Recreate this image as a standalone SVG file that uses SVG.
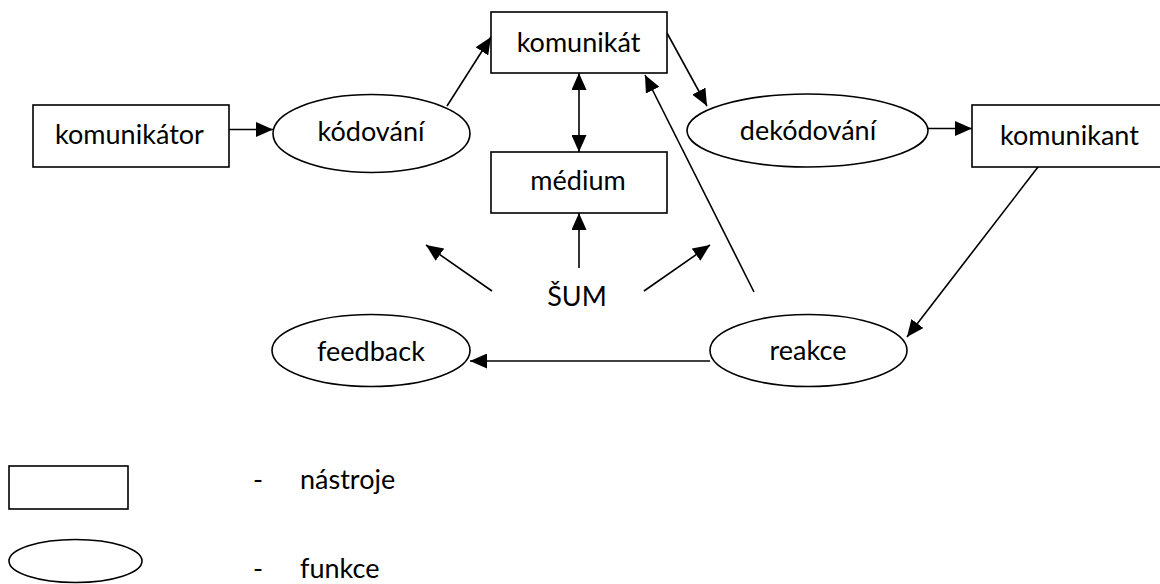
<svg xmlns="http://www.w3.org/2000/svg" width="1160" height="584" viewBox="0 0 1160 584">
  <defs>
    <marker id="ah" markerUnits="userSpaceOnUse" markerWidth="17" markerHeight="15" refX="17" refY="7.5" orient="auto-start-reverse">
      <path d="M0,0 L17,7.5 L0,15 z" fill="#000"/>
    </marker>
    <style>
      .box{fill:#fff;stroke:#000;stroke-width:1.6}
      .ell{fill:#fff;stroke:#000;stroke-width:1.6}
      .lbl{font-family:Lato,"Open Sans",sans-serif;font-size:27px;fill:#000;text-anchor:middle}
      .leg{font-family:Lato,"Open Sans",sans-serif;font-size:27px;fill:#000}
      .con line{stroke:#000;stroke-width:1.6;fill:none}
      .arr{marker-end:url(#ah)}
    </style>
  </defs>
  <rect width="1160" height="584" fill="#fff"/>

  <g id="connectors" class="con">
    <line class="arr" x1="229" y1="129.5" x2="273" y2="129.5"/>
    <line class="arr" x1="447" y1="106" x2="491" y2="37"/>
    <line class="arr" x1="579" y1="73" x2="579" y2="152" marker-start="url(#ah)"/>
    <line class="arr" x1="667" y1="33" x2="707" y2="106"/>
    <line class="arr" x1="928" y1="128.5" x2="972" y2="128.5"/>
    <line class="arr" x1="1038" y1="167" x2="907" y2="337"/>
    <line class="arr" x1="754" y1="292" x2="645" y2="75"/>
    <line class="arr" x1="710" y1="361" x2="470" y2="361"/>
    <line class="arr" x1="579" y1="268" x2="579" y2="213"/>
    <line class="arr" x1="492" y1="291" x2="426" y2="245"/>
    <line class="arr" x1="644" y1="291" x2="710" y2="245"/>
  </g>

  <g id="komunikator">
    <rect class="box" x="33" y="105" width="196" height="62"/>
    <text class="lbl" x="129.5" y="144">komunikátor</text>
  </g>
  <g id="kodovani">
    <ellipse class="ell" cx="371.5" cy="133.5" rx="98.5" ry="39"/>
    <text class="lbl" x="371" y="141">kódování</text>
  </g>
  <g id="komunikat">
    <rect class="box" x="491" y="12" width="176" height="61"/>
    <text class="lbl" x="578.5" y="52">komunikát</text>
  </g>
  <g id="medium">
    <rect class="box" x="491" y="152" width="176" height="61"/>
    <text class="lbl" x="578" y="190">médium</text>
  </g>
  <g id="dekodovani">
    <ellipse class="ell" cx="807.5" cy="130.5" rx="120.5" ry="36.5"/>
    <text class="lbl" x="808" y="140">dekódování</text>
  </g>
  <g id="komunikant">
    <rect class="box" x="972" y="105" width="200" height="62"/>
    <text class="lbl" x="1069.5" y="145">komunikant</text>
  </g>
  <g id="sum">
    <text class="lbl" x="577" y="306">ŠUM</text>
  </g>
  <g id="feedback">
    <ellipse class="ell" cx="371" cy="350.5" rx="99" ry="36"/>
    <text class="lbl" x="371" y="361">feedback</text>
  </g>
  <g id="reakce">
    <ellipse class="ell" cx="808.5" cy="350.5" rx="98.5" ry="36"/>
    <text class="lbl" x="808" y="360">reakce</text>
  </g>

  <g id="legend-nastroje">
    <rect class="box" x="9" y="466" width="119" height="43"/>
    <text class="leg" x="253" y="489">-</text>
    <text class="leg" x="300" y="489">nástroje</text>
  </g>
  <g id="legend-funkce">
    <ellipse class="ell" cx="75.5" cy="561" rx="66.5" ry="21.5"/>
    <text class="leg" x="253" y="578">-</text>
    <text class="leg" x="300" y="578">funkce</text>
  </g>
</svg>
